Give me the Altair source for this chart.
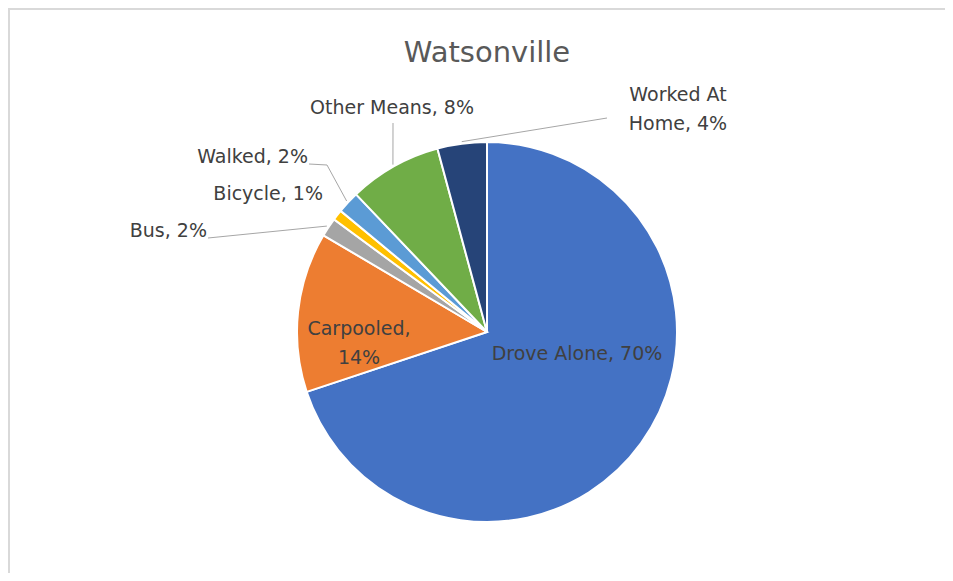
import math
import altair as alt
import pandas as pd

# ---- data ----
categories = ["Drove Alone", "Carpooled", "Bus", "Bicycle", "Walked", "Other Means", "Worked At Home"]
values = [69.9, 13.6, 1.6, 0.9, 1.9, 7.9, 4.2]
label_texts = ["Drove Alone, 70%", "Carpooled,\n14%", "Bus, 2%", "Bicycle, 1%",
               "Walked, 2%", "Other Means, 8%", "Worked At\nHome, 4%"]
colors = ["#4472C4", "#ED7D31", "#A5A5A5", "#FFC000", "#5B9BD5", "#70AD47", "#264478"]
title_text = "Watsonville"

# ---- layout ----
W, H = 937, 565
CX, CY, R = 479, 324, 190
FONT = "DejaVu Sans"
TEXT_COLOR = "#404040"

pie_df = pd.DataFrame({"category": categories, "value": values,
                       "order": list(range(len(categories)))})

arcs = alt.Chart(pie_df).mark_arc(radius=R, stroke="white", strokeWidth=2).encode(
    theta=alt.Theta("value:Q", stack=True),
    order=alt.Order("order:Q"),
    color=alt.Color("category:N", scale=alt.Scale(domain=categories, range=colors), legend=None),
    x=alt.value(CX),
    y=alt.value(CY),
)

# label anchor positions (layout)
label_pos = {
    "Drove Alone": (569, 346, "center"),
    "Carpooled": (351, 320.5, "center"),
    "Bus": (199, 223, "right"),
    "Bicycle": (315, 186, "right"),
    "Walked": (300, 149, "right"),
    "Other Means": (384, 100, "center"),
    "Worked At Home": (670, 87, "center"),
}
lab_rows = []
for cat, txt in zip(categories, label_texts):
    x, y, a = label_pos[cat]
    lab_rows.append({"category": cat, "text": txt, "x": x, "y": y, "align": a})
lab_df = pd.DataFrame(lab_rows)

def text_layer(align):
    return alt.Chart(lab_df[lab_df["align"] == align]).mark_text(
        font=FONT, fontSize=19, color=TEXT_COLOR, align=align, baseline="middle",
        lineBreak="\n", lineHeight=29,
    ).encode(
        x=alt.X("x:Q", scale=None), y=alt.Y("y:Q", scale=None), text="text:N"
    )

# leader lines: from label to slice edge at the slice's mid-angle
cum = 0.0
mid = {}
total = sum(values)
for c, v in zip(categories, values):
    mid[c] = (cum + v / 2) / total * 2 * math.pi
    cum += v

def edge(cat, r=R + 2):
    a = mid[cat]
    return (CX + r * math.sin(a), CY - r * math.cos(a))

leader_start = {
    "Bus": [(200, 230)],
    "Walked": [(301, 156), (319, 157)],
    "Other Means": [(385, 115)],
    "Worked At Home": [(599, 110)],
}
line_rows = []
for cat, pts in leader_start.items():
    allpts = pts + [edge(cat)]
    for i, (x, y) in enumerate(allpts):
        line_rows.append({"category": cat, "i": i, "x": x, "y": y})
line_df = pd.DataFrame(line_rows)

leaders = alt.Chart(line_df).mark_line(color="#A6A6A6", strokeWidth=1).encode(
    x=alt.X("x:Q", scale=None), y=alt.Y("y:Q", scale=None),
    detail="category:N", order="i:Q",
)

title = alt.Chart(pd.DataFrame({"t": [title_text]})).mark_text(
    font=FONT, fontSize=29, color="#595959", align="center", baseline="middle"
).encode(x=alt.value(CX), y=alt.value(45), text="t:N")

border_top = alt.Chart(pd.DataFrame({"a": [0]})).mark_rule(color="#D9D9D9", strokeWidth=2).encode(
    x=alt.value(0), x2=alt.value(W), y=alt.value(1))
border_left = alt.Chart(pd.DataFrame({"a": [0]})).mark_rule(color="#D9D9D9", strokeWidth=2).encode(
    x=alt.value(1), y=alt.value(0), y2=alt.value(H))

chart = alt.layer(
    border_top, border_left, arcs, leaders, text_layer("center"), text_layer("right"), title
).properties(
    width=W, height=H, padding=0, autosize="none", background="white"
).configure_view(stroke=None)

chart.save("out.html", embed_options={"renderer": "svg", "actions": False})
